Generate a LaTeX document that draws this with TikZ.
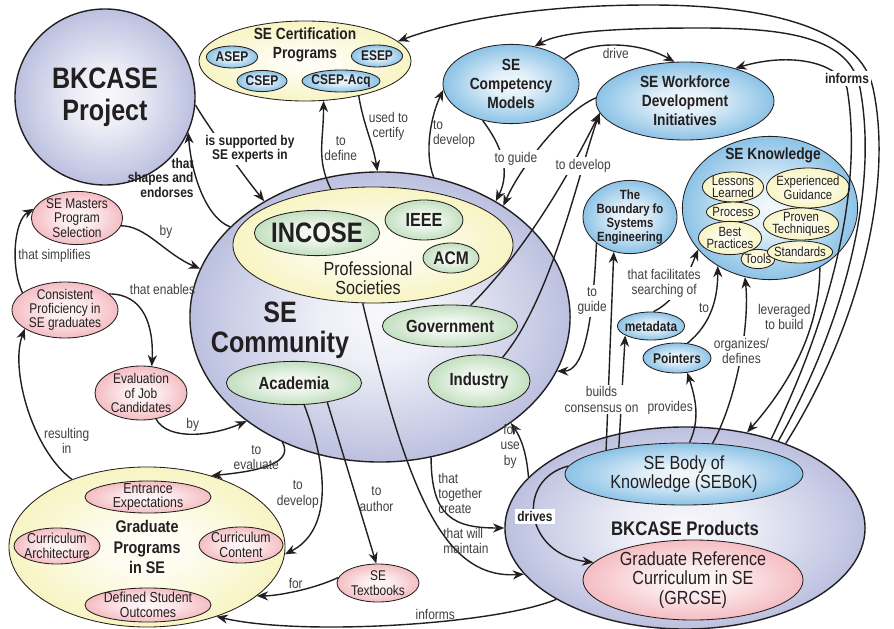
\documentclass[tikz,border=0pt]{standalone}
\usepackage{fontspec}
\setmainfont{Liberation Sans}[FakeStretch=0.85]
\definecolor{ink}{RGB}{35,31,32}
\definecolor{lblgray}{RGB}{64,64,64}
\definecolor{lavfill}{RGB}{138,146,200}
\definecolor{bluefill}{RGB}{55,150,212}
\definecolor{yelfill}{RGB}{242,236,150}
\definecolor{grnfill}{RGB}{150,200,145}
\definecolor{pinkfill}{RGB}{236,140,150}
\colorlet{glowcol}{lavfill}
\usetikzlibrary{arrows.meta,shapes.geometric}
\pgfdeclareradialshading[glowcol]{glow}{\pgfpoint{0bp}{0bp}}{color(0bp)=(glowcol!6!white); color(8bp)=(glowcol!15!white); color(30bp)=(glowcol!70!white); color(45bp)=(glowcol); color(50bp)=(glowcol)}
\tikzset{
  blob/.style={ellipse, draw=ink, line width=0.6pt, inner xsep=-2pt, inner ysep=-2pt, align=center, text=ink, /utils/exec={\colorlet{glowcol}{#1}}, shading=glow},
  lavblob/.style={blob=lavfill, line width=1pt},
  blueblob/.style={blob=bluefill, font=\bfseries\fontsize{11.5}{13.5}\selectfont},
  tagblob/.style={blob=bluefill, font=\bfseries\fontsize{10}{10}\selectfont},
  yelblob/.style={blob=yelfill, font=\fontsize{9.5}{8.5}\selectfont},
  grnblob/.style={blob=grnfill, font=\bfseries\fontsize{12.5}{13}\selectfont},
  pinkblob/.style={blob=pinkfill, font=\fontsize{10}{10.2}\selectfont},
  title/.style={align=center, text=ink, inner sep=0pt},
  conn/.style={draw=ink, line width=1pt, -{Stealth[length=8pt,width=6.5pt]}},
  lbl/.style={font=\fontsize{10}{10.8}\selectfont, text=lblgray, align=center, inner sep=1.5pt},
  blbl/.style={font=\bfseries\fontsize{10}{10.2}\selectfont, text=ink, align=center, inner sep=1.5pt},
}
\begin{document}
\begin{tikzpicture}[x=0.025cm, y=-0.025cm]
  \useasboundingbox (0,0) rectangle (894,629);
  % BKCASE project
  \node[lavblob, minimum width=4.5cm, minimum height=4.4cm, font=\bfseries\fontsize{21}{23}\selectfont] (bkp) at (105,97) {BKCASE\\Project};
  % Certification programs
  \node[yelblob, minimum width=5.3cm, minimum height=2cm] (cert) at (305,61) {};
  \node[title, font=\bfseries\fontsize{11.5}{13.5}\selectfont] (certT) at (305,45) {SE Certification\\Programs};
  \node[tagblob, minimum width=1.28cm, minimum height=0.55cm] (asep) at (232,57) {ASEP};
  \node[tagblob, minimum width=1.28cm, minimum height=0.55cm] (esep) at (377,56) {ESEP};
  \node[tagblob, minimum width=1.25cm, minimum height=0.53cm] (csep) at (262,81) {CSEP};
  \node[tagblob, minimum width=1.95cm, minimum height=0.55cm] (csepa) at (341,81) {CSEP-Acq};
  % Workforce side
  \node[blueblob, minimum width=3.4cm, minimum height=1.98cm] (comp) at (511,84) {SE\\Competency\\Models};
  \node[blueblob, minimum width=4.45cm, minimum height=1.95cm] (work) at (685,101) {SE Workforce\\Development\\Initiatives};
  % SE knowledge
  \node[blob=bluefill, minimum width=4.38cm, minimum height=3.58cm] (know) at (770,208) {};
  \node[title, font=\bfseries\fontsize{11.5}{13.5}\selectfont] (knowT) at (773,155) {SE Knowledge};
  \node[yelblob, minimum width=1.53cm, minimum height=0.75cm] (less) at (733,187) {Lessons\\Learned};
  \node[yelblob, minimum width=1.33cm, minimum height=0.5cm] (proc) at (733,212) {Process};
  \node[yelblob, minimum width=1.58cm, minimum height=0.83cm] (best) at (730,238) {Best\\Practices};
  \node[yelblob, minimum width=0.85cm, minimum height=0.48cm] (tools) at (758,259) {Tools};
  \node[yelblob, minimum width=2.08cm, minimum height=1cm] (exp) at (808,188) {Experienced\\Guidance};
  \node[yelblob, minimum width=1.88cm, minimum height=0.8cm] (prov) at (801,224) {Proven\\Techniques};
  \node[yelblob, minimum width=1.6cm, minimum height=0.55cm] (stand) at (800,252) {Standards};
  \node[tagblob, font=\bfseries\fontsize{9.5}{10}\selectfont, minimum width=2.35cm, minimum height=1.83cm] (bound) at (630,217) {The\\Boundary fo\\Systems\\Engineering};
  \node[tagblob, minimum width=1.68cm, minimum height=0.7cm] (meta) at (651,326) {metadata};
  \node[tagblob, minimum width=1.7cm, minimum height=0.75cm] (point) at (677,358) {Pointers};
  % SE community
  \node[lavblob, minimum width=9.5cm, minimum height=7.25cm] (sec) at (380,317) {};
  \node[title, font=\bfseries\fontsize{21}{21}\selectfont] (secT) at (280,330) {SE\\Community};
  \node[blob=yelfill, minimum width=7cm, minimum height=2.9cm] (profs) at (373,245) {};
  \node[title, font=\fontsize{13.5}{13.5}\selectfont] (profsT) at (368,278) {Professional\\Societies};
  \node[grnblob, font=\bfseries\fontsize{20}{20}\selectfont, minimum width=3.13cm, minimum height=1.13cm] (inc) at (317,233) {INCOSE};
  \node[grnblob, font=\bfseries\fontsize{13.5}{13.5}\selectfont, minimum width=1.95cm, minimum height=1cm] (ieee) at (424,220) {IEEE};
  \node[grnblob, font=\bfseries\fontsize{13}{13}\selectfont, minimum width=1.4cm, minimum height=0.75cm] (acm) at (451,258) {ACM};
  \node[grnblob, minimum width=3.38cm, minimum height=1.05cm] (gov) at (450,326) {Government};
  \node[grnblob, minimum width=2.55cm, minimum height=1.3cm] (ind) at (479,381) {Industry};
  \node[grnblob, minimum width=3.38cm, minimum height=1.08cm] (aca) at (294,383) {Academia};
  % Left side
  \node[pinkblob, minimum width=2.28cm, minimum height=1.33cm] (mast) at (77,218) {SE Masters\\Program\\Selection};
  \node[pinkblob, minimum width=2.65cm, minimum height=1.4cm] (prof) at (65,310) {Consistent\\Proficiency in\\SE graduates};
  \node[pinkblob, minimum width=2.3cm, minimum height=1.35cm] (eval) at (141,393) {Evaluation\\of Job\\Candidates};
  % Graduate programs
  \node[blob=yelfill, font=\bfseries\fontsize{12}{14.5}\selectfont, minimum width=6.9cm, minimum height=4cm] (grad) at (147,547) {Graduate\\Programs\\in SE};
  \node[pinkblob, font=\fontsize{10.3}{10.5}\selectfont, minimum width=3.15cm, minimum height=0.8cm] (ent) at (148,497) {Entrance\\Expectations};
  \node[pinkblob, font=\fontsize{10.3}{10.5}\selectfont, minimum width=2.15cm, minimum height=0.9cm] (carch) at (57,546) {Curriculum\\Architecture};
  \node[pinkblob, font=\fontsize{10.3}{10.5}\selectfont, minimum width=2.1cm, minimum height=0.9cm] (ccont) at (241,545) {Curriculum\\Content};
  \node[pinkblob, font=\fontsize{10.3}{10.5}\selectfont, minimum width=3.15cm, minimum height=0.85cm] (dso) at (148,605) {Defined Student\\Outcomes};
  \node[pinkblob, minimum width=2.05cm, minimum height=0.95cm] (text) at (378,583) {SE\\Textbooks};
  % BKCASE products
  \node[lavblob, font=\bfseries\fontsize{14}{14}\selectfont, minimum width=9cm, minimum height=5.05cm] (prod) at (685,528) {BKCASE Products};
  \node[blob=bluefill, font=\fontsize{13.5}{14}\selectfont, minimum width=5.95cm, minimum height=1.55cm] (sebok) at (684,474) {SE Body of\\Knowledge (SEBoK)};
  \node[blob=pinkfill, font=\fontsize{13.5}{14}\selectfont, minimum width=5.5cm, minimum height=2cm] (grcse) at (693,580) {Graduate Reference\\Curriculum in SE\\(GRCSE)};
  % Community links
  \draw[conn] (bkp.-5) .. controls +(15,25) and +(-20,-25) .. node[blbl, fill=white, xshift=5.5mm, yshift=1mm] {is supported by\\SE experts in} (sec.135);
  \draw[conn] (sec.149) .. controls +(-25,-10) and +(3,40) .. node[blbl, left, pos=0.62, align=right] {that\\shapes and\\endorses} (bkp.-23);
  \draw[conn] (mast.-10) .. controls +(25,0) and +(-35,-15) .. node[lbl, above right, pos=0.5] {by} (sec.165);
  \draw[conn] (prof.158) .. controls +(-12,-25) and +(-20,12) .. node[lbl, right, pos=0.4] {that simplifies} (mast.168);
  \draw[conn] (prof.20) .. controls +(35,0) and +(2,-40) .. node[lbl, above right, pos=0.2] {that enables} (eval.68);
  \draw[conn] (eval.-60) .. controls +(12,22) and +(-35,15) .. node[lbl, above, pos=0.5] {by} (sec.218);
  \draw[conn] (grad.138) .. controls +(-40,-30) and +(-15,40) .. node[lbl, right, pos=0.3] {resulting\\in} (prof.205);
  \draw[conn] (sec.232) .. controls +(15,25) and +(30,-3) .. node[lbl, left, pos=0.25] {to\\evaluate} (grad.48);
  \draw[conn] (aca.-65) .. controls +(30,80) and +(40,-20) .. node[lbl, left, pos=0.45] {to\\develop} (grad.-3);
  \draw[conn] (aca.-30) -- node[lbl, right, pos=0.6] {to\\author} (text.95);
  \draw[conn] (text.172) .. controls +(-25,12) and +(20,0) .. node[lbl, above, pos=0.5] {for} (grad.-24);
  \draw[conn] (prod.209) .. controls +(-60,25) and +(85,20) .. node[lbl, above, pos=0.4] {informs} (grad.-45);
  \draw[conn] (sec.-70) .. controls +(0,60) and +(-50,0) .. node[lbl, right, pos=0.25, align=left] {that\\together\\create} (prod.180);
  \draw[conn] (profs.-100) .. controls +(45,190) and +(-80,5) .. node[lbl, above, pos=0.72, align=left] {that will\\maintain} (prod.196);
  \draw[conn] (prod.162) .. controls +(-2,-25) and +(10,15) .. node[lbl, left, pos=0.5] {for\\use\\by} (sec.-39);
  \draw[conn] (profs.127) .. controls +(-15,-30) and +(0,40) .. node[lbl, right, pos=0.5] {to\\define} (cert.-65);
  \draw[conn] (cert.-33) .. controls +(5,30) and +(-5,-30) .. node[lbl, right, pos=0.4] {used to\\certify} (sec.91);
  \draw[conn] (sec.69) .. controls +(-10,-25) and +(-12,25) .. node[lbl, right, pos=0.5, align=left] {to\\develop} (comp.185);
  \draw[conn] (work.178) .. controls +(-35,15) and +(15,-35) .. (sec.42);
  \draw[conn] (comp.-128) .. controls +(19,25) and +(15,-30) .. node[lbl, fill=white, pos=0.5, xshift=3.5mm] {to guide} (sec.45);
  \draw[conn] (gov.45) .. controls +(60,-60) and +(-25,50) .. (work.188);
  \draw[conn] (ind.45) .. controls +(50,-60) and +(-20,55) .. node[lbl, fill=white, pos=0.75] {to develop} (work.188);
  \draw[conn] (comp.25) .. controls +(25,-20) and +(-35,-20) .. node[lbl, below, pos=0.5] {drive} (work.105);
  % Knowledge links
  \draw[conn] (bound.218) .. controls +(-4,90) and +(25,0) .. node[lbl, fill=white, pos=0.25] {to\\guide} (sec.-17);
  \draw[conn] (sebok.163) -- (bound.-115);
  \draw[conn] (sebok.158) -- node[lbl, fill=white, pos=0.43, xshift=-5mm] {builds\\consensus on} (meta.200);
  \draw[conn] (meta.80) .. controls +(25,-12) and +(-8,20) .. node[lbl, fill=white, pos=0.5, xshift=-4.5mm] {that facilitates\\searching of} (know.210);
  \draw[conn] (point.55) .. controls +(25,-20) and +(0,30) .. node[lbl, left, pos=0.5] {to} (know.228);
  \draw[conn] (sebok.80) .. controls +(11,-24) and +(8,25) .. node[lbl, left, pos=0.5] {provides} (point.-55);
  \draw[conn] (sebok.47) .. controls +(25,-45) and +(5,45) .. node[lbl, fill=white, pos=0.55] {organizes/\\defines} (know.250);
  \draw[conn] (know.-50) .. controls +(0,70) and +(35,-40) .. node[lbl, left, pos=0.25] {leveraged\\to build} (prod.57);
  \draw[conn] (sebok.176) .. controls +(-54,14) and +(-69,-8) .. node[blbl, fill=white, pos=0.5] {drives} (grcse.170);
  % Informs lines
  \draw[conn] (prod.40) .. controls (855,334) and (895,190) .. (873,88) .. controls (861,33) and (780,5) .. (650,5) .. controls (530,5) and (450,22) .. (cert.12);
  \draw[conn] (prod.43) .. controls (840,331) and (880,195) .. (860,88) .. controls (850,38) and (790,28) .. (700,28) .. controls (610,28) and (560,32) .. (comp.58);
  \draw[conn] (prod.46) .. controls (825,329) and (865,195) .. (847,88) node[blbl, fill=white, above=1pt] {informs} .. controls (838,62) and (790,52) .. (work.33);
\end{tikzpicture}
\end{document}
